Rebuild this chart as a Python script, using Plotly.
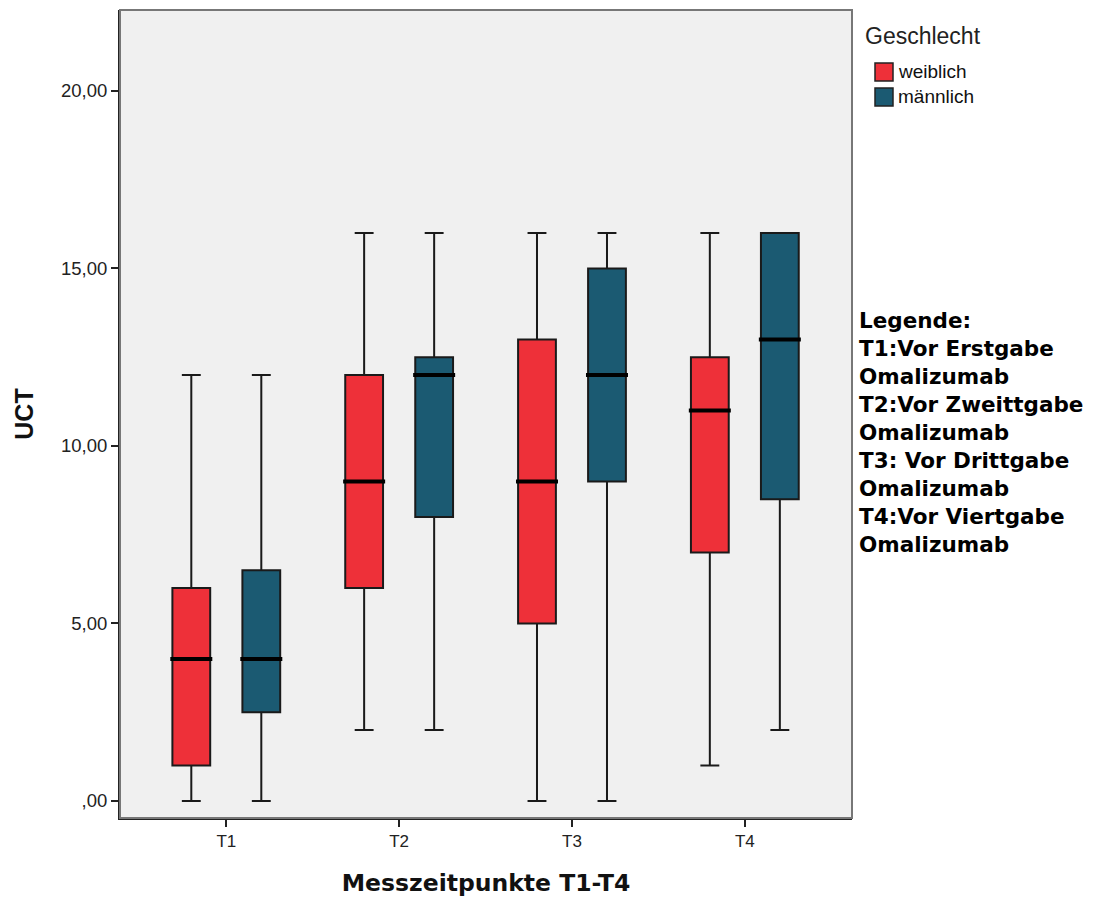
import plotly.graph_objects as go

categories = ["T1", "T2", "T3", "T4"]
groups = ["weiblich", "männlich"]
colors = {"weiblich": "#EE3039", "männlich": "#1B5A72"}

# five-number summaries
lower = {"weiblich": [0, 2, 0, 1], "männlich": [0, 2, 0, 2]}
q1 = {"weiblich": [1, 6, 5, 7], "männlich": [2.5, 8, 9, 8.5]}
median = {"weiblich": [4, 9, 9, 11], "männlich": [4, 12, 12, 13]}
q3 = {"weiblich": [6, 12, 13, 12.5], "männlich": [6.5, 12.5, 15, 16]}
upper = {"weiblich": [12, 16, 16, 16], "männlich": [12, 16, 16, 16]}

y_tickvals = [0, 5, 10, 15, 20]
y_ticktext = [",00", "5,00", "10,00", "15,00", "20,00"]

legend_title = "Geschlecht"
legend_text = ["Legende:", "T1:Vor Erstgabe", "Omalizumab", "T2:Vor Zweittgabe",
               "Omalizumab", "T3: Vor Drittgabe", "Omalizumab", "T4:Vor Viertgabe", "Omalizumab"]

W, H = 1097, 901
L, R, T, B = 120, 245, 10, 83
pw, ph = W - L - R, H - T - B


def px_x(x):
    return (x - L) / pw


def px_y(y):
    return (H - B - y) / ph


fig = go.Figure()
for g in groups:
    fig.add_trace(go.Box(
        name=g, x=categories, q1=q1[g], median=median[g], q3=q3[g],
        lowerfence=lower[g], upperfence=upper[g],
        fillcolor=colors[g], line=dict(color="#1a1a1a", width=2),
        whiskerwidth=0.5, offsetgroup=g, legendgroup=g, boxpoints=False,
        hoverinfo="skip", showlegend=False,
    ))
for g in groups:
    fig.add_trace(go.Scatter(
        x=categories, y=median[g], mode="markers", offsetgroup=g, legendgroup=g,
        showlegend=False, hoverinfo="skip",
        marker=dict(symbol="line-ew", size=30, line=dict(color="black", width=4)),
    ))

shapes = [dict(type="rect", xref="paper", yref="paper", x0=0, x1=1, y0=0, y1=1,
               line=dict(color="#777777", width=2), layer="above")]
annotations = [
    dict(text="<br>".join(f"<b>{t}</b>" for t in legend_text), xref="paper", yref="paper",
         x=px_x(857), y=px_y(306), xanchor="left", yanchor="top", align="left",
         showarrow=False, font=dict(size=21.5, color="#000000", family="DejaVu Sans, sans-serif")),
    dict(text=legend_title, xref="paper", yref="paper", x=px_x(863), y=px_y(36),
         xanchor="left", yanchor="middle", showarrow=False,
         font=dict(size=23, color="#222222", family="Liberation Sans, Arial, sans-serif")),
]
for i, g in enumerate(groups):
    top = 63 + 25 * i
    shapes.append(dict(type="rect", xref="paper", yref="paper",
                       x0=px_x(875), x1=px_x(893), y0=px_y(top + 18), y1=px_y(top),
                       fillcolor=colors[g], line=dict(color="#222222", width=1.5)))
    annotations.append(dict(text=g, xref="paper", yref="paper", x=px_x(896), y=px_y(top + 9),
                            xanchor="left", yanchor="middle", showarrow=False,
                            font=dict(size=19, color="#111111", family="Liberation Sans, Arial, sans-serif")))

fig.update_layout(
    width=W, height=H,
    margin=dict(l=L, r=R, t=T, b=B),
    paper_bgcolor="white", plot_bgcolor="#F0F0F0",
    boxmode="group", boxgap=0.19, boxgroupgap=0.46,
    scattermode="group", scattergap=0.19,
    font=dict(family="Liberation Sans, Arial, sans-serif", color="#222222", size=14),
    showlegend=False,
    xaxis=dict(
        type="category", categoryorder="array", categoryarray=categories,
        range=[-0.615, 3.62], showgrid=False, zeroline=False,
        showline=True, linecolor="#222222", linewidth=2,
        ticks="outside", ticklen=7, tickwidth=2, tickcolor="#222222",
        tickfont=dict(size=17, color="#222222"),
        title=dict(text="<b>Messzeitpunkte T1-T4</b>",
                   font=dict(size=23.5, color="#111111", family="DejaVu Sans, sans-serif"), standoff=24),
    ),
    yaxis=dict(
        range=[-0.48, 22.28], showgrid=False, zeroline=False,
        tickvals=y_tickvals, ticktext=y_ticktext,
        showline=True, linecolor="#222222", linewidth=2,
        ticks="outside", ticklen=7, tickwidth=2, tickcolor="#222222",
        tickfont=dict(size=18.5, color="#222222"),
        title=dict(text="<b>UCT</b>", font=dict(size=25, color="#111111"), standoff=20),
    ),
    shapes=shapes,
    annotations=annotations,
)

fig.write_html("out.html")
